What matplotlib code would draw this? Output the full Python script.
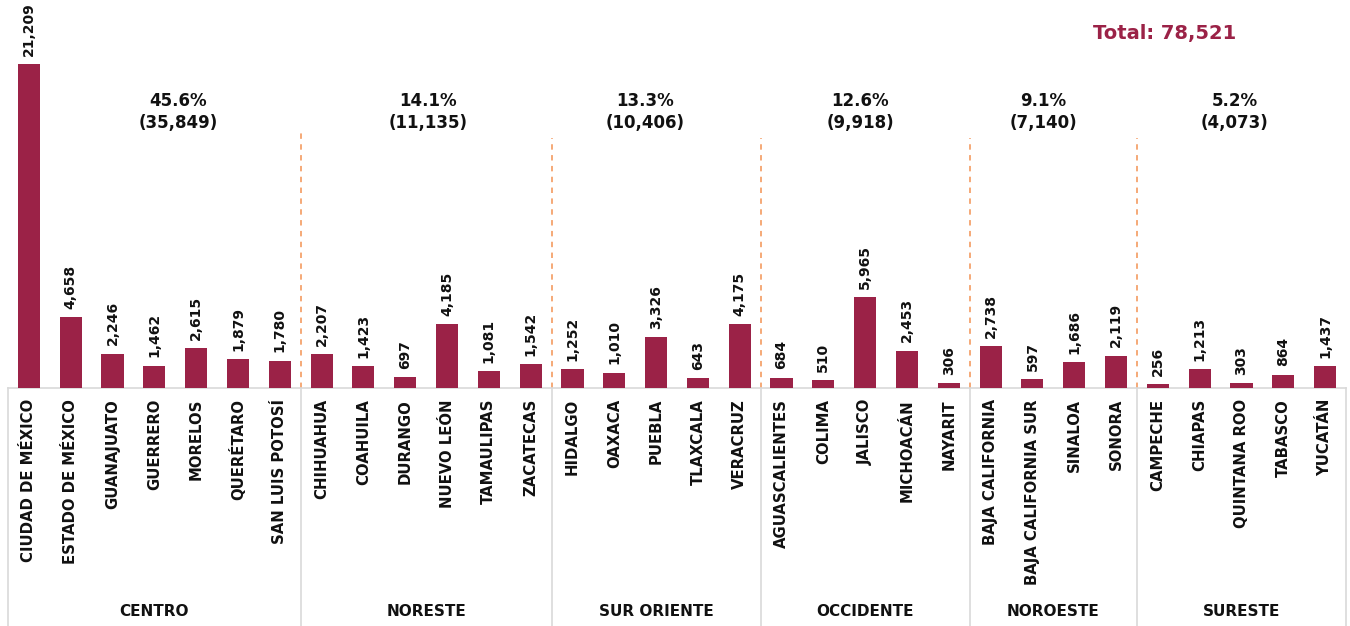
import matplotlib
matplotlib.use("Agg")
import matplotlib.pyplot as plt
import matplotlib.transforms as mtransforms

states = ["CIUDAD DE MÉXICO", "ESTADO DE MÉXICO", "GUANAJUATO", "GUERRERO", "MORELOS",
          "QUERÉTARO", "SAN LUIS POTOSÍ",
          "CHIHUAHUA", "COAHUILA", "DURANGO", "NUEVO LEÓN", "TAMAULIPAS", "ZACATECAS",
          "HIDALGO", "OAXACA", "PUEBLA", "TLAXCALA", "VERACRUZ",
          "AGUASCALIENTES", "COLIMA", "JALISCO", "MICHOACÁN", "NAYARIT",
          "BAJA CALIFORNIA", "BAJA CALIFORNIA SUR", "SINALOA", "SONORA",
          "CAMPECHE", "CHIAPAS", "QUINTANA ROO", "TABASCO", "YUCATÁN"]
values = [21209, 4658, 2246, 1462, 2615, 1879, 1780,
          2207, 1423, 697, 4185, 1081, 1542,
          1252, 1010, 3326, 643, 4175,
          684, 510, 5965, 2453, 306,
          2738, 597, 1686, 2119,
          256, 1213, 303, 864, 1437]
regions = ["CENTRO", "NORESTE", "SUR ORIENTE", "OCCIDENTE", "NOROESTE", "SURESTE"]
region_sizes = [7, 6, 5, 5, 4, 5]
region_pct = ["45.6%", "14.1%", "13.3%", "12.6%", "9.1%", "5.2%"]
region_totals = ["35,849", "11,135", "10,406", "9,918", "7,140", "4,073"]
total_label = "Total: 78,521"

BAR = "#9B2247"
ORANGE = "#F4A26C"
GRAY = "#D9D9D9"

W, H = 1350, 626
fig = plt.figure(figsize=(W / 100, H / 100), dpi=100)
base_px = 388
left_px, right_px = 8, 1346
ax = fig.add_axes([left_px / W, (H - base_px) / H, (right_px - left_px) / W, base_px / H])

x = list(range(len(states)))
ax.bar(x, values, width=0.53, color=BAR, zorder=3)
ax.set_xlim(-0.5, len(states) - 0.5)
ax.set_ylim(0, 25400)
for s in ["top", "right", "left"]:
    ax.spines[s].set_visible(False)
ax.spines["bottom"].set_color(GRAY)
ax.spines["bottom"].set_linewidth(1.2)
ax.set_yticks([])
ax.set_xticks(x)
ax.set_xticklabels(states, rotation=90, fontsize=10.7, fontweight="bold", color="#111111")
ax.tick_params(axis="x", length=0, pad=8)

for xi, v in zip(x, values):
    ax.annotate(f"{v:,}", (xi, v), xytext=(0, 6), textcoords="offset points",
                rotation=90, ha="center", va="bottom", fontsize=10, fontweight="bold",
                color="#111111")

trans = mtransforms.blended_transform_factory(ax.transData, ax.transAxes)
bottom_frac = -(H - base_px) / base_px

# separators
bounds = [-0.5]
acc = 0
for n in region_sizes:
    acc += n
    bounds.append(acc - 0.5)
dash_tops = [128, 138, 138, 138, 138]
for i, b in enumerate(bounds):
    ax.plot([b, b], [0, bottom_frac], transform=trans, color=GRAY, lw=1.2, clip_on=False)
    if 0 < i < len(bounds) - 1:
        top = (base_px - dash_tops[i - 1]) / base_px
        ax.plot([b, b], [0, top], transform=trans, color=ORANGE, lw=1.3,
                linestyle=(0, (3, 3)), clip_on=False)

# region names
for i, name in enumerate(regions):
    cx = (bounds[i] + bounds[i + 1]) / 2
    ax.text(cx, (base_px - 612) / base_px, name, transform=trans, ha="center", va="center",
            fontsize=11, fontweight="bold", color="#111111")

# region percentages
pct_x = [3.56, 9.55, 14.74, 19.88, 24.26, 28.83]
for px_, p, t in zip(pct_x, region_pct, region_totals):
    ax.text(px_, (base_px - 112) / base_px, f"{p}\n({t})", transform=trans,
            ha="center", va="center", fontsize=12, fontweight="bold",
            color="#111111", linespacing=1.25)

fig.text(1165 / W, 1 - 33 / H, total_label, ha="center", va="center",
         fontsize=14, fontweight="bold", color=BAR)

fig.savefig("out.png", dpi=100, facecolor="white")
